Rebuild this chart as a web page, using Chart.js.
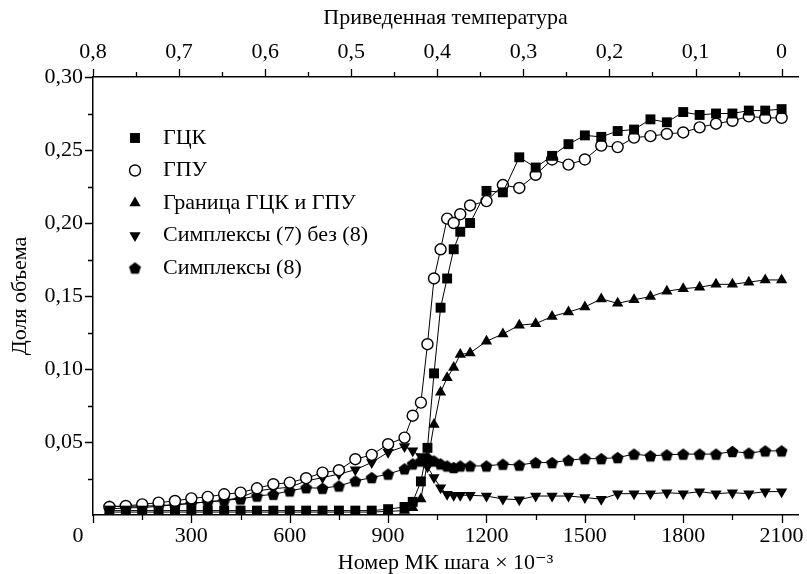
<!DOCTYPE html>
<html lang="ru">
<head>
<meta charset="utf-8">
<title>Доля объема</title>
<script src="https://cdn.jsdelivr.net/npm/chart.js@4.4.1/dist/chart.umd.min.js"></script>
<style>
  html, body { margin: 0; padding: 0; background: #fff; }
  #wrap { width: 807px; height: 574px; position: relative; }
</style>
</head>
<body>
<div id="wrap"><canvas id="chart"></canvas></div>
<script>
// Номер МК шага (x 10^-3)
const steps = [50, 100, 150, 200, 250, 300, 350, 400, 450, 500, 550, 600, 650, 700, 750, 800, 850, 900, 950,
  975, 1000, 1020, 1040, 1060, 1080, 1100, 1120, 1150,
  1200, 1250, 1300, 1350, 1400, 1450, 1500, 1550, 1600, 1650, 1700, 1750, 1800, 1850, 1900, 1950, 2000, 2050, 2100]

// ГЦК
const fcc = [0.003, 0.003, 0.003, 0.003, 0.003, 0.003, 0.003, 0.003, 0.003, 0.003, 0.003, 0.003, 0.003, 0.003, 0.003, 0.003, 0.003, 0.004, 0.0055,
  0.009, 0.023, 0.046, 0.097, 0.142, 0.162, 0.182, 0.194, 0.200,
  0.222, 0.221, 0.245, 0.238, 0.246, 0.254, 0.260, 0.259, 0.263, 0.264, 0.271, 0.269, 0.276, 0.274, 0.275, 0.275, 0.277, 0.277, 0.278]

// ГПУ
const hcp = [0.0055, 0.0062, 0.0073, 0.0085, 0.0096, 0.0114, 0.0124, 0.0142, 0.0153, 0.0183, 0.0211, 0.0222, 0.0252, 0.029, 0.0307, 0.0382, 0.0412, 0.0485, 0.053,
  0.068, 0.077, 0.117, 0.162, 0.182, 0.203, 0.200, 0.206, 0.212,
  0.215, 0.226, 0.224, 0.233, 0.2435, 0.240, 0.2435, 0.253, 0.252, 0.2585, 0.2595, 0.261, 0.262, 0.2655, 0.268, 0.270, 0.273, 0.272, 0.272]

// Граница ГЦК и ГПУ
const border = [0.002, 0.002, 0.002, 0.002, 0.002, 0.002, 0.002, 0.002, 0.002, 0.002, 0.002, 0.002, 0.002, 0.002, 0.002, 0.002, 0.002, 0.0025, 0.003,
  0.005, 0.011, 0.036, 0.062, 0.084, 0.094, 0.101, 0.110, 0.111,
  0.119, 0.124, 0.130, 0.131, 0.136, 0.139, 0.1425, 0.148, 0.145, 0.1474, 0.1496, 0.1533, 0.155, 0.156, 0.158, 0.158, 0.1595, 0.161, 0.161]

// Симплексы (7) без (8)
const simplex7 = [0.004, 0.005, 0.005, 0.006, 0.007, 0.008, 0.009, 0.010, 0.012, 0.0165, 0.018, 0.019, 0.0233, 0.0256, 0.028, 0.031, 0.036, 0.043, 0.047,
  0.044, 0.040, 0.033, 0.0256, 0.0187, 0.0142, 0.0135, 0.0135, 0.0135,
  0.013, 0.011, 0.0105, 0.013, 0.013, 0.013, 0.012, 0.0108, 0.0146, 0.0146, 0.0146, 0.0153, 0.0146, 0.016, 0.0146, 0.0153, 0.0146, 0.016, 0.016]

// Симплексы (8)
const simplex8 = [0.006, 0.006, 0.006, 0.0065, 0.007, 0.008, 0.009, 0.010, 0.011, 0.013, 0.0142, 0.0165, 0.0187, 0.0183, 0.0199, 0.0233, 0.0256, 0.028, 0.0316,
  0.035, 0.037, 0.039, 0.037, 0.035, 0.0336, 0.0325, 0.0336, 0.0336,
  0.0336, 0.0348, 0.0342, 0.0359, 0.0359, 0.0375, 0.0386, 0.0386, 0.0393, 0.0417, 0.0405, 0.0412, 0.0417, 0.0417, 0.0417, 0.0435, 0.0424, 0.0439, 0.0439]

const labels = ["ГЦК", "ГПУ", "Граница ГЦК и ГПУ", "Симплексы (7) без (8)", "Симплексы (8)"]

const xMax = 2150
const tempStart = 0.8   // приведенная температура при шаге 0
const tempEndStep = 2100 // шаг, где температура = 0

const FONT = "'Liberation Serif', 'DejaVu Serif', serif"
Chart.defaults.font.family = FONT
Chart.defaults.font.size = 22
Chart.defaults.color = "#000"

// пятиугольник для маркера
function makePentagon(r) {
  const c = document.createElement("canvas")
  const s = Math.ceil(r * 2 + 2)
  c.width = s
  c.height = s
  const g = c.getContext("2d")
  g.fillStyle = "#000"
  g.beginPath()
  for (let i = 0; i < 5; i++) {
    const a = -Math.PI / 2 + (i * 2 * Math.PI) / 5
    const px = s / 2 + r * Math.cos(a)
    const py = s / 2 + 0.6 + r * Math.sin(a)
    if (i === 0) g.moveTo(px, py)
    else g.lineTo(px, py)
  }
  g.closePath()
  g.fill()
  return c
}
const pentagon = makePentagon(6.3)

function toPoints(values) {
  return steps.map((s, i) => ({ x: s, y: values[i] }))
}

const markers = [
  { pointStyle: "rect", pointRadius: 7, bg: "#000", bw: 0, rot: 0 },
  { pointStyle: "circle", pointRadius: 5.5, bg: "#fff", bw: 1.4, rot: 0 },
  { pointStyle: "triangle", pointRadius: 6.5, bg: "#000", bw: 0, rot: 0 },
  { pointStyle: "triangle", pointRadius: 6.5, bg: "#000", bw: 0, rot: 180 },
  { pointStyle: pentagon, pointRadius: 6, bg: "#000", bw: 0, rot: 0 },
]

const seriesValues = [fcc, hcp, border, simplex7, simplex8]

const datasets = seriesValues.map((vals, i) => ({
  label: labels[i],
  data: toPoints(vals),
  xAxisID: "x",
  borderColor: "#000",
  borderWidth: 1,
  pointStyle: markers[i].pointStyle,
  pointRadius: markers[i].pointRadius,
  pointHoverRadius: markers[i].pointRadius,
  pointRotation: markers[i].rot,
  pointBackgroundColor: markers[i].bg,
  pointBorderColor: "#000",
  pointBorderWidth: markers[i].bw,
  tension: 0,
}))

function isMultiple(v, step) {
  const r = v / step
  return Math.abs(r - Math.round(r)) < 1e-6
}

// засечки, "0" в углу и легенда
const extras = {
  id: "extras",
  afterDraw(chart) {
    const ctx = chart.ctx
    const area = chart.chartArea
    const sx = chart.scales.x
    const sx2 = chart.scales.x2
    const sy = chart.scales.y
    ctx.save()
    ctx.strokeStyle = "#000"
    ctx.lineWidth = 1.3
    ctx.beginPath()
    sx.ticks.forEach((t) => {
      const px = Math.round(sx.getPixelForValue(t.value)) + 0.5
      const len = isMultiple(t.value, 300) ? 8 : 5
      ctx.moveTo(px, area.bottom)
      ctx.lineTo(px, area.bottom + len)
    })
    sx2.ticks.forEach((t) => {
      const px = Math.round(sx2.getPixelForValue(t.value)) + 0.5
      const len = isMultiple(t.value, 0.1) ? 8 : 5
      ctx.moveTo(px, area.top)
      ctx.lineTo(px, area.top - len)
    })
    sy.ticks.forEach((t) => {
      if (t.value === 0) return
      const py = Math.round(sy.getPixelForValue(t.value)) + 0.5
      const len = isMultiple(t.value, 0.05) ? 8 : 5
      ctx.moveTo(area.left, py)
      ctx.lineTo(area.left - len, py)
    })
    ctx.stroke()

    // подпись "0" у начала оси
    ctx.font = "22px " + FONT
    ctx.fillStyle = "#000"
    ctx.textAlign = "center"
    ctx.textBaseline = "middle"
    ctx.fillText("0", area.left - 15, area.bottom + 8 + 13.2)

    // легенда
    const lx = area.left + 42
    const ly = area.top + 61
    const gap = 32.5
    chart.data.datasets.forEach((ds, i) => {
      const y = ly + i * gap
      ctx.fillStyle = ds.pointBackgroundColor
      ctx.strokeStyle = "#000"
      ctx.lineWidth = ds.pointBorderWidth || 1
      Chart.helpers.drawPoint(ctx, {
        pointStyle: ds.pointStyle,
        radius: ds.pointRadius,
        rotation: ds.pointRotation,
        borderWidth: ds.pointBorderWidth,
      }, lx, y)
      ctx.fillStyle = "#000"
      ctx.textAlign = "left"
      ctx.fillText(ds.label, lx + 28, y)
    })
    ctx.restore()
  },
}

new Chart(document.getElementById("chart"), {
  type: "line",
  data: { datasets },
  plugins: [extras],
  options: {
    responsive: true,
    maintainAspectRatio: false,
    animation: false,
    events: [],
    layout: { padding: { left: 0, right: 9, top: 0, bottom: 0 } },
    plugins: {
      legend: { display: false },
      tooltip: { enabled: false },
    },
    scales: {
      x: {
        type: "linear",
        position: "bottom",
        min: 0,
        max: xMax,
        grid: { drawOnChartArea: false, tickLength: 8, tickColor: "rgba(0,0,0,0)" },
        border: { display: true, color: "#000", width: 1.5 },
        ticks: {
          stepSize: 150,
          includeBounds: false,
          padding: 0,
          maxRotation: 0,
          autoSkip: false,
          callback: (v) => (v > 0 && isMultiple(v, 300) ? String(v) : ""),
        },
        title: {
          display: true,
          text: "Номер МК шага × 10⁻³",
          font: { size: 22, lineHeight: 1 },
          padding: { top: 0, bottom: 0 },
        },
        afterFit: (s) => { s.height = 59 },
      },
      x2: {
        type: "linear",
        position: "top",
        reverse: true,
        min: tempStart - (xMax * tempStart) / tempEndStep,
        max: tempStart,
        grid: { drawOnChartArea: false, tickLength: 8, tickColor: "rgba(0,0,0,0)" },
        border: { display: true, color: "#000", width: 1.5 },
        ticks: {
          stepSize: 0.05,
          includeBounds: false,
          padding: 4,
          maxRotation: 0,
          autoSkip: false,
          callback: (v) => {
            if (!isMultiple(v, 0.1)) return ""
            const r = Math.round(v * 10) / 10
            return r === 0 ? "0" : r.toFixed(1).replace(".", ",")
          },
        },
        title: {
          display: true,
          text: "Приведенная температура",
          font: { size: 22, lineHeight: 1 },
          padding: { top: 7, bottom: 0 },
        },
        afterFit: (s) => { s.height = 77 },
      },
      y: {
        type: "linear",
        min: 0,
        max: 0.3,
        grid: { drawOnChartArea: false, tickLength: 8, tickColor: "rgba(0,0,0,0)" },
        border: { display: true, color: "#000", width: 1.5 },
        ticks: {
          stepSize: 0.025,
          padding: 2,
          autoSkip: false,
          callback: (v) => (v > 0 && isMultiple(v, 0.05) ? v.toFixed(2).replace(".", ",") : ""),
        },
        title: {
          display: true,
          text: "Доля объема",
          font: { size: 22, lineHeight: 1 },
          padding: { top: 9, bottom: 0 },
        },
        afterFit: (s) => { s.width = 93 },
      },
    },
  },
})
</script>
</body>
</html>
